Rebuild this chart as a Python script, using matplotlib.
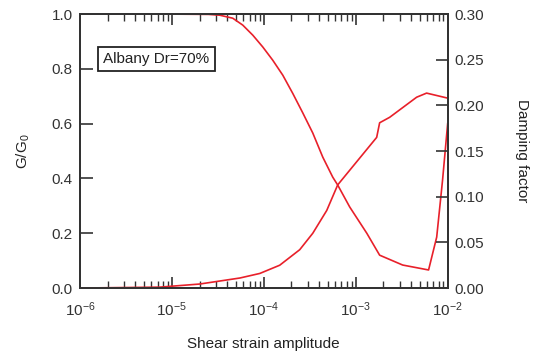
import numpy as np
import matplotlib
matplotlib.use("Agg")
import matplotlib.pyplot as plt
from matplotlib.ticker import LogLocator, NullFormatter

plt.rcParams['font.family'] = ['Liberation Sans', 'DejaVu Sans']
plt.rcParams['mathtext.fontset'] = 'custom'
plt.rcParams['mathtext.rm'] = 'Liberation Sans'
plt.rcParams['mathtext.it'] = 'Liberation Sans'
plt.rcParams['mathtext.default'] = 'regular'
plt.rcParams['axes.unicode_minus'] = False

# shear strain amplitude vs G/G0
strain_g = [1e-6, 1e-5, 2.5e-5, 3.33e-5, 4.6e-5, 5.9e-5, 7.6e-5, 9.75e-5, 1.25e-4,
            1.61e-4, 2.07e-4, 2.65e-4, 3.41e-4, 4.38e-4, 5.62e-4, 6.37e-4,
            8.6e-4, 1.32e-3, 1.82e-3, 3.24e-3, 6.2e-3, 7.6e-3, 8.8e-3, 1e-2]
g_ratio = [1.0, 1.0, 0.999, 0.996, 0.985, 0.96, 0.923, 0.88, 0.832,
           0.777, 0.71, 0.64, 0.566, 0.478, 0.405, 0.376,
           0.296, 0.20, 0.12, 0.084, 0.066, 0.186, 0.394, 0.60]

# shear strain amplitude vs damping factor
strain_d = [1e-6, 7.4e-6, 2.01e-5, 5.5e-5, 9.06e-5, 1.49e-4, 2.46e-4, 3.41e-4,
            4.84e-4, 6.37e-4, 8.6e-4, 1.69e-3, 1.82e-3, 2.34e-3,
            4.6e-3, 5.9e-3, 1e-2]
damping = [0.0, 0.001, 0.0044, 0.011, 0.016, 0.025, 0.042, 0.060,
           0.085, 0.113, 0.129, 0.165, 0.181, 0.187,
           0.209, 0.2135, 0.208]

x_ticks = [1e-6, 1e-5, 1e-4, 1e-3, 1e-2]
x_labels = ['$10^{-6}$', '$10^{-5}$', '$10^{-4}$', '$10^{-3}$', '$10^{-2}$']

red = '#e8202a'

fig = plt.figure(figsize=(5.4, 3.53), dpi=100)
ax = fig.add_axes([0.148, 0.184, 0.681, 0.776])
ax2 = ax.twinx()

ax.plot(strain_g, g_ratio, color=red, lw=1.2)
ax2.plot(strain_d, damping, color=red, lw=1.2)

ax.set_xscale('log')
ax.set_xlim(1e-6, 1e-2)
ax.set_ylim(0, 1.0)
ax2.set_ylim(0, 0.30)

ax.set_xticks(x_ticks)
ax.set_xticklabels(x_labels)
ax.set_yticks([0.0, 0.2, 0.4, 0.6, 0.8, 1.0])
ax.set_yticklabels(['0.0', '0.2', '0.4', '0.6', '0.8', '1.0'])
ax2.set_yticks([0.0, 0.05, 0.10, 0.15, 0.20, 0.25, 0.30])
ax2.set_yticklabels(['0.00', '0.05', '0.10', '0.15', '0.20', '0.25', '0.30'])

ax.xaxis.set_minor_locator(LogLocator(base=10, subs=np.arange(2, 10), numticks=20))
ax.xaxis.set_minor_formatter(NullFormatter())

tc = '#333333'
ax.tick_params(axis='x', which='major', direction='in', length=8, width=1.2,
               top=True, labelsize=11, colors=tc, pad=9)
ax.tick_params(axis='x', which='minor', direction='in', length=5, width=1.0,
               top=True, colors=tc)
ax.tick_params(axis='y', which='major', direction='in', length=9, width=1.2,
               labelsize=11, colors=tc, pad=5)
ax2.tick_params(axis='y', which='major', direction='in', length=9, width=1.2,
                labelsize=11, colors=tc, pad=5)

for a in (ax, ax2):
    for s in a.spines.values():
        s.set_linewidth(1.4)
        s.set_color('#333333')

ax.set_xlabel('Shear strain amplitude', fontsize=11, color='#222222', labelpad=13)
ax.set_ylabel('G/G$_0$', fontsize=11, color='#222222', labelpad=14)
ax2.set_ylabel('Damping factor', fontsize=11, color='#222222', rotation=270, labelpad=32)

ax.text(0.063, 0.836, 'Albany Dr=70%', transform=ax.transAxes, fontsize=11,
        color='#222222', va='center', ha='left',
        bbox=dict(boxstyle='square,pad=0.35', fc='white', ec='#222222', lw=1.3))

fig.savefig('out.png', dpi=100)
